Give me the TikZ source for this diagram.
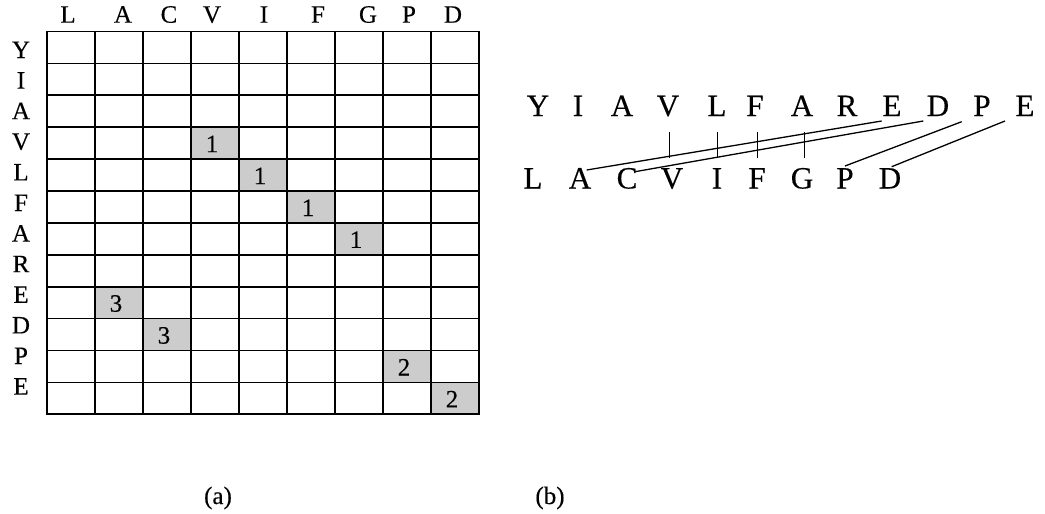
\documentclass[tikz,border=0pt]{standalone}
\usepackage{fontspec}
\setmainfont{Liberation Serif}[FakeBold=0.35]
\usetikzlibrary{calc}
\definecolor{cellgray}{RGB}{204,204,204}
\begin{document}
\begin{tikzpicture}[x=1pt,y=-1pt,
  every node/.style={font=\fontsize{25}{30}\selectfont, inner sep=0pt},
  lbl/.style={anchor=base},
  seq/.style={anchor=base, font=\fontsize{31}{36}\selectfont},
  captext/.style={anchor=base, font=\fontsize{25}{30}\selectfont},
  gridline/.style={line width=1.7pt},
  matchline/.style={line width=1.3pt},
  tickline/.style={line width=0.9pt}]
\useasboundingbox (0,0) rectangle (1045,514);
% shaded cells with scores
\foreach \c/\r/\n in {3/3/1,4/4/1,5/5/1,6/6/1,1/8/3,2/9/3,7/10/2,8/11/2}{
  \fill[cellgray] ({47+48*\c},{31.5+31.9*\r}) rectangle ++(48,31.9);
  \node[lbl] (n\c-\r) at ({47+48*\c+21},{31.5+31.9*\r+25}) {\n};
}
% grid
\foreach \i in {1,...,8} \draw[gridline] ({47+48*\i},31.5) -- ({47+48*\i},414.3);
\foreach \j in {1,...,11} \draw[gridline] (47,{31.5+31.9*\j}) -- (479,{31.5+31.9*\j});
\draw[gridline] (47,31.5) rectangle (479,414.3);
% column labels
\foreach \t/\x [count=\k] in {L/68,A/123,C/169,V/212,I/264,F/318,G/368,P/409,D/453}
  \node[lbl] (col\k) at (\x,22.7) {\t};
% row labels
\foreach \t [count=\k] in {Y,I,A,V,L,F,A,R,E,D,P,E}
  \node[lbl] (row\k) at (21,{58+30.6*(\k-1)}) {\t};
% (b) sequences
\foreach \t/\x [count=\k] in {Y/538,I/578,A/622,V/668,L/717,F/755,A/802,R/847,E/892,D/938,P/982,E/1025}
  \node[seq] (t\k) at (\x,116) {\t};
\foreach \t/\x [count=\k] in {L/533,A/580,C/627,V/672,I/717,F/757,G/802,P/845,D/890}
  \node[seq] (b\k) at (\x,188.5) {\t};
% matches
\draw[matchline] ($(t9.base)+(-10.3,5)$) -- ($(b2.base)+(6.7,-18.5)$);
\draw[matchline] ($(t10.base)+(-14.7,5)$) -- ($(b3.base)+(8,-16.8)$);
\draw[matchline] ($(t11.base)+(-20.3,5.7)$) -- ($(b8.base)+(0,-22.5)$);
\draw[matchline] ($(t12.base)+(-20,5)$) -- ($(b9.base)+(1.7,-21.8)$);
\draw[tickline] ($(t4.base)+(1,16)$) -- ($(t4.base)+(1,42)$);
\draw[tickline] ($(t5.base)+(0,16)$) -- ($(t5.base)+(0,42)$);
\draw[tickline] ($(t6.base)+(2,16)$) -- ($(t6.base)+(2,42)$);
\draw[tickline] ($(t7.base)+(2,16)$) -- ($(t7.base)+(2,42)$);
% captions
\node[captext] (capa) at (218,504) {(a)};
\node[captext] (capb) at (550,504) {(b)};
\end{tikzpicture}
\end{document}
